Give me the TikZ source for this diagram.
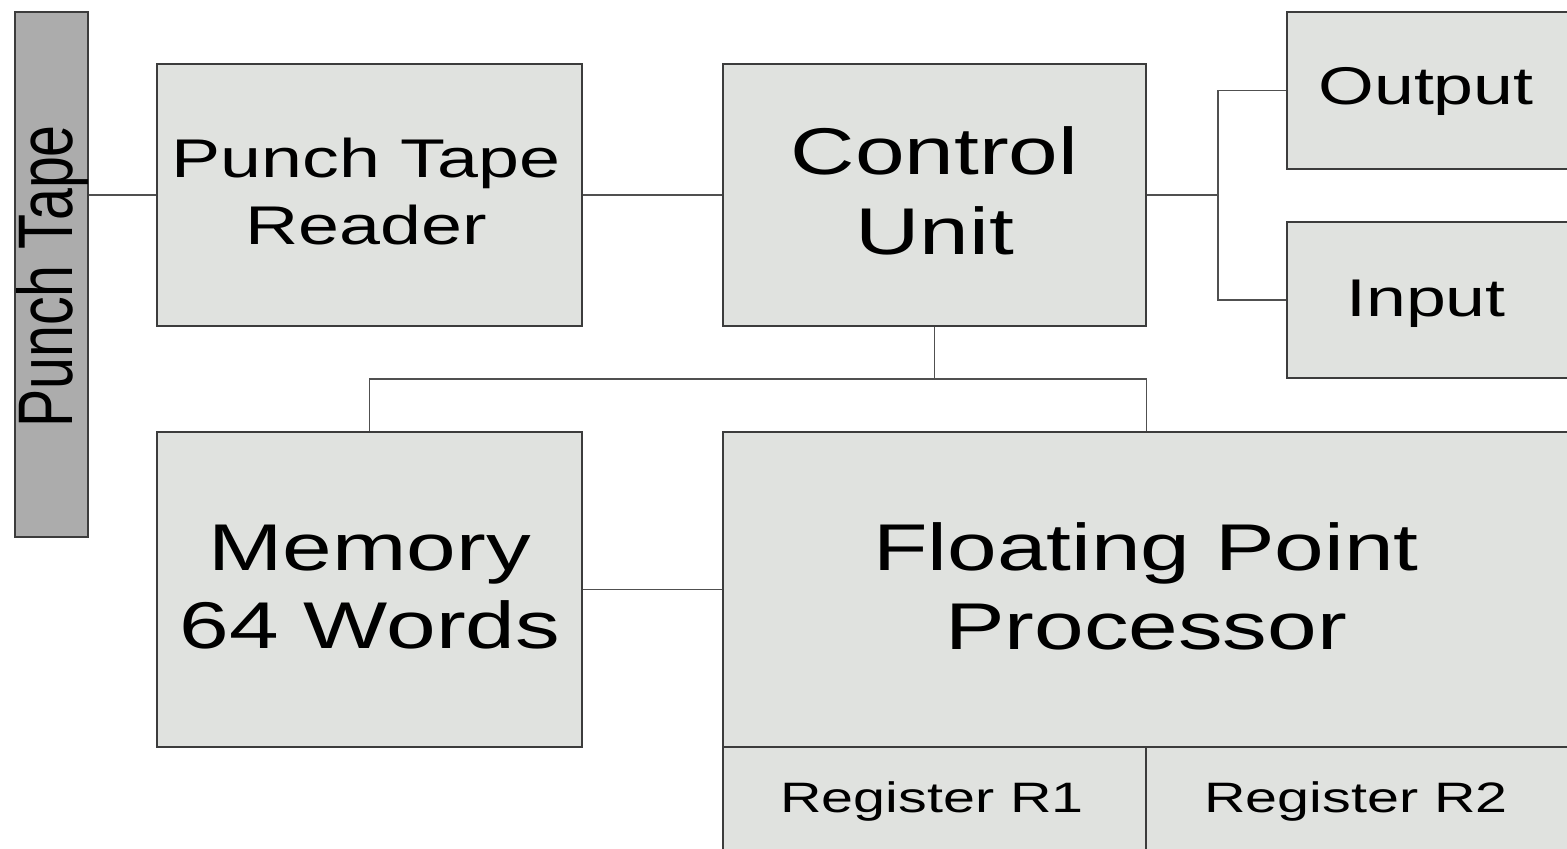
\documentclass[tikz,border=0pt]{standalone}
\usepackage{fontspec}
\setmainfont{Liberation Sans}
\definecolor{boxfill}{RGB}{224,226,223}
\definecolor{tapefill}{RGB}{172,172,172}
\definecolor{edgec}{RGB}{60,60,60}
\definecolor{wirec}{RGB}{80,80,80}
\newcommand{\wide}[1]{\scalebox{1.35}[1]{#1}}
\newcommand{\tall}[1]{\scalebox{1}[1.35]{#1}}
\tikzset{
  blk/.style={draw=edgec, fill=boxfill, line width=0.6pt, inner sep=0pt},
  tapebox/.style={draw=edgec, fill=tapefill, line width=0.6pt, inner sep=0pt},
  wire/.style={draw=wirec, line width=0.45pt},
  bigt/.style={inner sep=0pt, anchor=base, font=\fontsize{18.8}{22}\selectfont},
  midt/.style={inner sep=0pt, anchor=base, font=\fontsize{15.1}{18}\selectfont},
  rdt/.style={inner sep=0pt, anchor=base, font=\fontsize{15.5}{18}\selectfont},
  tapet/.style={inner sep=0pt, anchor=base, font=\fontsize{16.3}{19}\selectfont},
  smallt/.style={inner sep=0pt, anchor=base, font=\fontsize{12.1}{14}\selectfont},
}
\begin{document}
\begin{tikzpicture}[x=0.01cm, y=-0.01cm]
\useasboundingbox (0,0) rectangle (1567,849);
\clip (0,0) rectangle (1567,849);
\fill[white] (0,0) rectangle (1567,849);

% boxes
\node[tapebox, minimum width=0.73cm, minimum height=5.25cm] (pt) at (51.5,274.5) {};
\node[blk, minimum width=4.25cm, minimum height=2.62cm] (reader) at (369.5,195) {};
\node[blk, minimum width=4.23cm, minimum height=2.62cm] (cu) at (934.5,195) {};
\node[blk, minimum width=2.83cm, minimum height=1.57cm] (out) at (1428.5,90.5) {};
\node[blk, minimum width=2.83cm, minimum height=1.56cm] (in) at (1428.5,300) {};
\node[blk, minimum width=4.25cm, minimum height=3.15cm] (mem) at (369.5,589.5) {};
\node[blk, minimum width=8.47cm, minimum height=3.15cm] (fpp) at (1146.5,589.5) {};
\node[blk, minimum width=4.23cm, minimum height=1.33cm] (r1) at (934.5,813.5) {};
\node[blk, minimum width=4.24cm, minimum height=1.33cm] (r2) at (1358,813.5) {};

% texts
\node[tapet, rotate=90] (ptl) at (72,276.5) {\tall{Punch Tape}};
\node[rdt] (rd1) at (366,178) {\wide{Punch Tape}};
\node[rdt] (rd2) at (366,245) {\wide{Reader}};
\node[bigt] (cu1) at (934.5,175) {\wide{Control}};
\node[bigt] (cu2) at (934.5,255) {\wide{Unit}};
\node[midt] (outl) at (1426,105) {\wide{Output}};
\node[midt] (inl) at (1426,317) {\wide{Input}};
\node[bigt] (mem1) at (369.5,570) {\wide{Memory}};
\node[bigt] (mem2) at (370,648) {\wide{64 Words}};
\node[bigt] (fp1) at (1146,570) {\wide{Floating Point}};
\node[bigt] (fp2) at (1146,649) {\wide{Processor}};
\node[smallt] (r1l) at (932,812) {\wide{Register R1}};
\node[smallt] (r2l) at (1356,812) {\wide{Register R2}};

% connectors
\coordinate (jr) at (1218,195);
\coordinate (jb) at (934.5,379);
\draw[wire] (reader.west) -- (reader.west -| pt.east);
\draw[wire] (reader.east) -- (cu.west);
\draw[wire] (cu.east) -- (jr);
\draw[wire] (out.west) -| (jr) |- (in.west);
\draw[wire] (cu.south) -- (jb);
\draw[wire] (mem.north) |- (jb) -| (fpp.north);
\draw[wire] (mem.east) -- (fpp.west);
\end{tikzpicture}
\end{document}
